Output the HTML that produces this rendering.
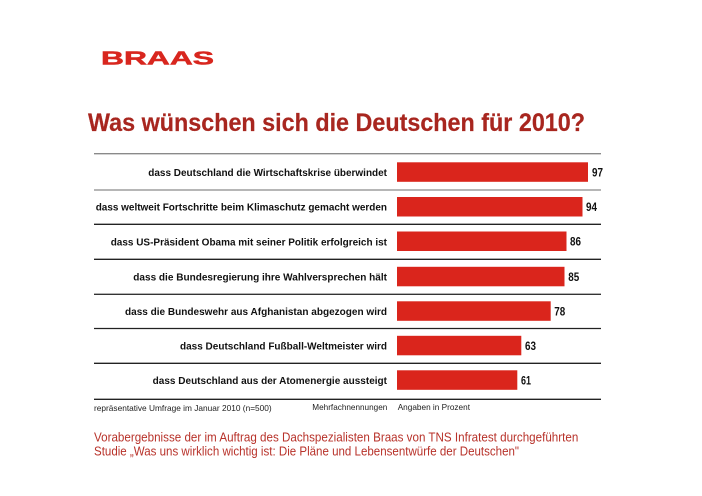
<!DOCTYPE html>
<html><head><meta charset="utf-8"><style>
html,body{margin:0;padding:0;background:#fff;}
svg{display:block;}
text{font-family:"Liberation Sans",Arial,sans-serif;}
</style></head><body>
<svg width="702" height="496" viewBox="0 0 702 496" xmlns="http://www.w3.org/2000/svg">
<rect width="702" height="496" fill="#fff"/>
<text x="101" y="64.3" font-size="18.5" font-weight="bold" fill="#d8261e" stroke="#d8261e" stroke-width="0.5" textLength="113" lengthAdjust="spacingAndGlyphs">BRAAS</text>
<text x="88" y="131" font-size="25" font-weight="bold" fill="#a8261f" stroke="#a8261f" stroke-width="0.2" textLength="497" lengthAdjust="spacingAndGlyphs">Was wünschen sich die Deutschen für 2010?</text>
<g stroke-width="1.3">
<line x1="94" y1="153.7" x2="601" y2="153.7" stroke="#8a8a8a"/>
<line x1="94" y1="190" x2="601" y2="190" stroke="#8a8a8a"/>
<line x1="94" y1="224.3" x2="601" y2="224.3" stroke="#222"/>
<line x1="94" y1="259.3" x2="601" y2="259.3" stroke="#222"/>
<line x1="94" y1="294.3" x2="601" y2="294.3" stroke="#333"/>
<line x1="94" y1="328.5" x2="601" y2="328.5" stroke="#222"/>
<line x1="94" y1="363.3" x2="601" y2="363.3" stroke="#222"/>
<line x1="94" y1="399.3" x2="601" y2="399.3" stroke="#222"/>
</g>
<g fill="#da251c">
<rect x="397" y="162.3" width="191" height="19.5"/>
<rect x="397" y="197" width="185.5" height="19.5"/>
<rect x="397" y="231.5" width="169.5" height="19.5"/>
<rect x="397" y="266.8" width="167.5" height="19.5"/>
<rect x="397" y="301.3" width="153.7" height="19.5"/>
<rect x="397" y="335.8" width="124.3" height="19.5"/>
<rect x="397" y="370.3" width="120.3" height="19.5"/>
</g>
<g font-size="10" font-weight="bold" fill="#111">
<text x="148.3" y="176" textLength="238.7" lengthAdjust="spacingAndGlyphs">dass Deutschland die Wirtschaftskrise überwindet</text>
<text x="95.7" y="210.7" textLength="291.3" lengthAdjust="spacingAndGlyphs">dass weltweit Fortschritte beim Klimaschutz gemacht werden</text>
<text x="110.7" y="245.3" textLength="276.3" lengthAdjust="spacingAndGlyphs">dass US-Präsident Obama mit seiner Politik erfolgreich ist</text>
<text x="133.3" y="280.5" textLength="253.7" lengthAdjust="spacingAndGlyphs">dass die Bundesregierung ihre Wahlversprechen hält</text>
<text x="125" y="315" textLength="262" lengthAdjust="spacingAndGlyphs">dass die Bundeswehr aus Afghanistan abgezogen wird</text>
<text x="180" y="349.5" textLength="207" lengthAdjust="spacingAndGlyphs">dass Deutschland Fußball-Weltmeister wird</text>
<text x="152.7" y="384" textLength="234.3" lengthAdjust="spacingAndGlyphs">dass Deutschland aus der Atomenergie aussteigt</text>
</g>
<g font-size="12" font-weight="bold" fill="#111">
<text x="592" y="176.3" textLength="11" lengthAdjust="spacingAndGlyphs">97</text>
<text x="586" y="211" textLength="11" lengthAdjust="spacingAndGlyphs">94</text>
<text x="570" y="245.5" textLength="11" lengthAdjust="spacingAndGlyphs">86</text>
<text x="568.3" y="280.8" textLength="11" lengthAdjust="spacingAndGlyphs">85</text>
<text x="554.3" y="315.3" textLength="11" lengthAdjust="spacingAndGlyphs">78</text>
<text x="525" y="349.8" textLength="11" lengthAdjust="spacingAndGlyphs">63</text>
<text x="521" y="384.3" textLength="10" lengthAdjust="spacingAndGlyphs">61</text>
</g>
<g font-size="8.5" fill="#222">
<text x="94" y="411" textLength="177.7" lengthAdjust="spacingAndGlyphs">repräsentative Umfrage im Januar 2010 (n=500)</text>
<text x="312.3" y="410" textLength="75" lengthAdjust="spacingAndGlyphs">Mehrfachnennungen</text>
<text x="397.7" y="410" textLength="72.3" lengthAdjust="spacingAndGlyphs">Angaben in Prozent</text>
</g>
<g font-size="12.5" fill="#b8322a">
<text x="94" y="441.7" textLength="484.3" lengthAdjust="spacingAndGlyphs">Vorabergebnisse der im Auftrag des Dachspezialisten Braas von TNS Infratest durchgeführten</text>
<text x="94" y="455.5" textLength="425" lengthAdjust="spacingAndGlyphs">Studie „Was uns wirklich wichtig ist: Die Pläne und Lebensentwürfe der Deutschen"</text>
</g>
</svg>
</body></html>
